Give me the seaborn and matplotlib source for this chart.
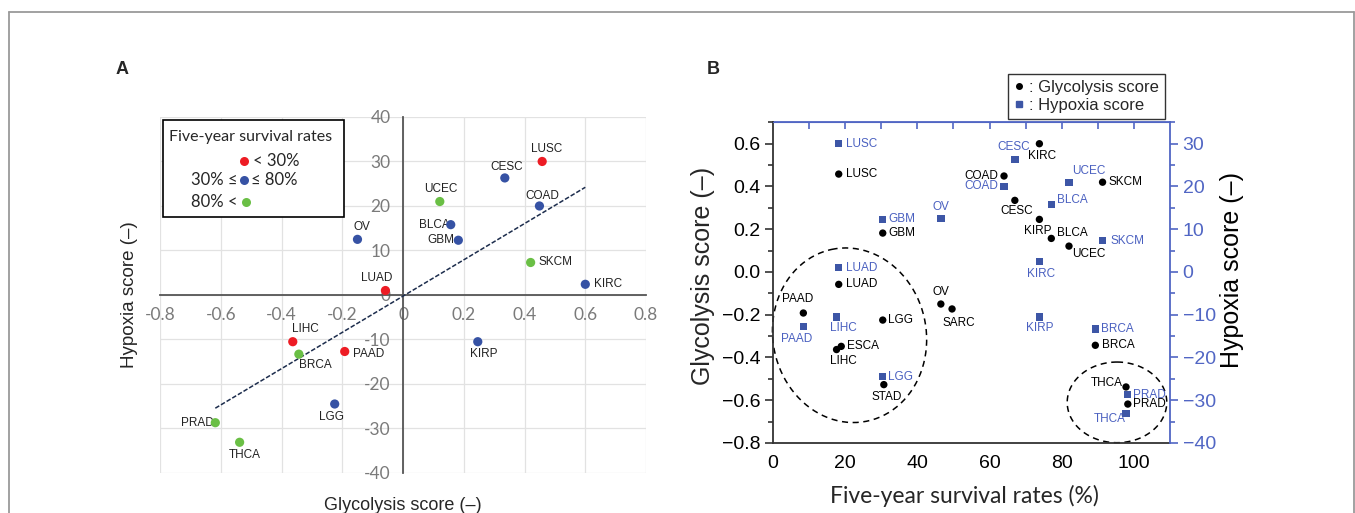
# %%
# Glycolysis / hypoxia scores vs five-year survival (two panels)
import numpy as np
import pandas as pd
import seaborn as sns
import matplotlib.pyplot as plt
from matplotlib.lines import Line2D
from matplotlib.patches import Rectangle
from matplotlib.ticker import MultipleLocator, FuncFormatter

sns.set_style("white")
plt.rcParams['font.family'] = ['Liberation Sans', 'DejaVu Sans']

# %%
# values
cancers = ['LUSC', 'CESC', 'UCEC', 'COAD', 'BLCA', 'GBM', 'SKCM', 'KIRC', 'KIRP', 'OV',
           'LUAD', 'LIHC', 'BRCA', 'PAAD', 'LGG', 'PRAD', 'THCA', 'ESCA', 'STAD', 'SARC']
glycolysis = [0.458, 0.335, 0.121, 0.449, 0.157, 0.182, 0.420, 0.600, 0.246, -0.150,
              -0.058, -0.363, -0.343, -0.192, -0.225, -0.618, -0.538, -0.348, -0.527, -0.173]
hypoxia = [30.0, 26.3, 21.0, 20.0, 15.8, 12.3, 7.3, 2.4, -10.5, 12.5,
           1.0, -10.5, -13.3, -12.7, -24.5, -28.7, -33.1, np.nan, np.nan, np.nan]
survival = [18.2, 67.0, 82.0, 64.0, 77.1, 30.4, 91.3, 73.8, 73.8, 46.5,
            18.2, 17.6, 89.3, 8.4, 30.4, 98.3, 97.8, 18.9, 30.7, 49.6]

df = pd.DataFrame({'cancer': cancers, 'glycolysis': glycolysis,
                   'hypoxia': hypoxia, 'survival': survival})
df['group'] = np.where(df['survival'] < 30, 'low',
                       np.where(df['survival'] <= 80, 'mid', 'high'))

red, blue_a, green = '#ed1c24', '#3652a4', '#6abf45'
blue = '#3d56a6'
blue_txt = '#4a60c0'
blue_ax = '#5166c4'
calibri = ['Lato', 'DejaVu Sans']

# label offsets (points) and alignment: name -> (dx, dy, ha)
labA = {'LUSC': (3, 9, 'center'), 'CESC': (1, 8, 'center'), 'UCEC': (1, 9, 'center'),
        'COAD': (2, 7, 'center'), 'BLCA': (-1, 0, 'right'), 'GBM': (-3, 0, 'right'),
        'SKCM': (6, 0, 'left'), 'KIRC': (6, 0, 'left'), 'KIRP': (4, -9, 'center'),
        'OV': (3, 9, 'center'), 'LUAD': (-6, 9, 'center'), 'LIHC': (9, 9, 'center'),
        'BRCA': (12, -8, 'center'), 'PAAD': (6, -1.5, 'left'), 'LGG': (-2, -9, 'center'),
        'PRAD': (-1, 0, 'right'), 'THCA': (4, -9, 'center')}
labB_gly = {'LUSC': (5, 0, 'left'), 'GBM': (4, 0, 'left'), 'LUAD': (5, 0, 'left'),
            'PAAD': (-4, 10, 'center'), 'LGG': (4, 0, 'left'), 'LIHC': (5, -8, 'center'),
            'ESCA': (4, 0, 'left'), 'STAD': (2, -9, 'center'), 'OV': (0, 9, 'center'),
            'SARC': (5, -10, 'center'), 'COAD': (-4, 0, 'right'), 'CESC': (1, -8, 'center'),
            'KIRC': (2, -9, 'center'), 'KIRP': (-1, -8, 'center'), 'BLCA': (4, 4, 'left'),
            'UCEC': (14, -6, 'center'), 'SKCM': (4, 0, 'left'), 'BRCA': (5, 0, 'left'),
            'THCA': (-2, 3, 'right'), 'PRAD': (4, 0, 'left')}
labB_hyp = {'LUSC': (5, 0, 'left'), 'GBM': (4, 0, 'left'), 'OV': (0, 8, 'center'),
            'LUAD': (5, 0, 'left'), 'LIHC': (5, -8, 'center'), 'PAAD': (-5, -9, 'center'),
            'LGG': (4, 0, 'left'), 'COAD': (-4, 0, 'right'), 'CESC': (-1, 9, 'center'),
            'UCEC': (14, 8, 'center'), 'BLCA': (4, 3, 'left'), 'SKCM': (6, 0, 'left'),
            'KIRC': (1, -9, 'center'), 'KIRP': (0, -8, 'center'), 'BRCA': (4, 0, 'left'),
            'PRAD': (4, 0, 'left'), 'THCA': (-12, -4, 'center')}

fig = plt.figure(figsize=(13.55, 5.13), dpi=100)

# outer frame (open at the bottom)
for xs, ys in [([0.0066, 0.0066], [0, 0.9766]), ([0.0066, 0.9993], [0.9766, 0.9766]),
               ([0.9993, 0.9993], [0.9766, 0])]:
    fig.add_artist(Line2D(xs, ys, color='#9a9a9a', lw=1.3, transform=fig.transFigure))

# %%
# Panel A
axA = fig.add_axes([0.1181, 0.078, 0.3587, 0.694])
dA = df.dropna(subset=['hypoxia'])
sns.scatterplot(data=dA, x='glycolysis', y='hypoxia', hue='group',
                palette={'low': red, 'mid': blue_a, 'high': green},
                s=44, edgecolor='none', legend=False, ax=axA, zorder=4)

slope, icpt = np.polyfit(dA['glycolysis'], dA['hypoxia'], 1)
xl = np.array([dA['glycolysis'].min(), dA['glycolysis'].max()])
axA.plot(xl, slope * xl + icpt, color='#1d2d4d', lw=1.1, ls=(0, (3, 1.3)), zorder=3)

for _, r in dA.iterrows():
    dx, dy, ha = labA[r['cancer']]
    axA.annotate(r['cancer'], (r['glycolysis'], r['hypoxia']), xytext=(dx, dy),
                 textcoords='offset points', ha=ha, va='center', fontsize=8.5, color='#222222')

axA.set_xlim(-0.8, 0.8)
axA.set_ylim(-40, 40)
axA.set_xticks(np.arange(-0.8, 0.81, 0.2))
axA.set_yticks(range(-40, 41, 10))
axA.xaxis.set_major_formatter(FuncFormatter(lambda v, p: f'{round(v, 1) + 0:g}'))
axA.yaxis.set_major_formatter(FuncFormatter(lambda v, p: f'{v:g}'))
axA.grid(True, color='#e2e2e2', lw=0.9)
axA.set_axisbelow(True)
for s in ['top', 'right']:
    axA.spines[s].set_visible(False)
for s in ['left', 'bottom']:
    axA.spines[s].set_position(('data', 0))
    axA.spines[s].set_color('#555555')
    axA.spines[s].set_linewidth(1.3)
axA.tick_params(length=0, labelsize=12.5, colors='#7a7a7a', pad=9)
for lab in axA.get_xticklabels() + axA.get_yticklabels():
    lab.set_family(calibri)
axA.set_xlabel('Glycolysis score (–)', fontsize=13)
axA.set_ylabel('Hypoxia score (–)', fontsize=13.5)
axA.xaxis.set_label_coords(0.5, -0.068)
axA.yaxis.set_label_coords(-0.045, 0.5)

# legend box of panel A
axA.add_patch(Rectangle((0.006, 0.72), 0.373, 0.272, transform=axA.transAxes,
                        fill=True, facecolor='white', edgecolor='black', lw=1.2, zorder=5))
axA.text(0.0185, 0.943, 'Five-year survival rates', transform=axA.transAxes,
         ha='left', va='center', fontsize=11.5, family=calibri, zorder=6)
axA.plot([0.1728], [0.876], 'o', color=red, ms=6.5, mec='none', transform=axA.transAxes,
         clip_on=False, zorder=6)
axA.text(0.192, 0.876, '< 30%', transform=axA.transAxes, ha='left', va='center',
         fontsize=12, family=calibri, zorder=6)
axA.plot([0.1735], [0.823], 'o', color=blue_a, ms=6.5, mec='none', transform=axA.transAxes,
         clip_on=False, zorder=6)
axA.text(0.159, 0.823, '30% ≤', transform=axA.transAxes, ha='right', va='center',
         fontsize=12, family=calibri, zorder=6)
axA.text(0.188, 0.823, '≤ 80%', transform=axA.transAxes, ha='left', va='center',
         fontsize=12, family=calibri, zorder=6)
axA.plot([0.1763], [0.761], 'o', color=green, ms=6.5, mec='none', transform=axA.transAxes,
         clip_on=False, zorder=6)
axA.text(0.159, 0.761, '80% <', transform=axA.transAxes, ha='right', va='center',
         fontsize=12, family=calibri, zorder=6)

fig.text(122 / 1355, 1 - 70 / 513, 'A', fontsize=13, fontweight='bold', ha='center', va='center')
fig.text(713 / 1355, 1 - 70 / 513, 'B', fontsize=13, fontweight='bold', ha='center', va='center')

# %%
# Panel B
axB = fig.add_axes([0.5705, 0.1365, 0.293, 0.625])
sns.scatterplot(data=df, x='survival', y='glycolysis', color='black', s=28,
                marker='o', edgecolor='none', ax=axB, zorder=4)
for _, r in df.iterrows():
    dx, dy, ha = labB_gly[r['cancer']]
    axB.annotate(r['cancer'], (r['survival'], r['glycolysis']), xytext=(dx, dy),
                 textcoords='offset points', ha=ha, va='center', fontsize=8.5, color='black')

ax2 = axB.twinx()
sns.scatterplot(data=dA, x='survival', y='hypoxia', color=blue, s=28,
                marker='s', edgecolor='none', ax=ax2, zorder=4)
for _, r in dA.iterrows():
    dx, dy, ha = labB_hyp[r['cancer']]
    ax2.annotate(r['cancer'], (r['survival'], r['hypoxia']), xytext=(dx, dy),
                 textcoords='offset points', ha=ha, va='center', fontsize=8.5, color=blue_txt)

# dashed rings around the low- and high-survival groups (sizes in pixels)
px_x, px_y = 3.625, 212.0
for cx, cy, a, b, th in [(21.2, -0.296, 87, 77, 12), (95.3, -0.61, 40, 50, 0)]:
    t = np.linspace(0, 2 * np.pi, 200)
    th = np.radians(th)
    ux, uy = -np.sin(th), np.cos(th)
    vx, vy = np.cos(th), np.sin(th)
    ex = a * np.cos(t) * ux + b * np.sin(t) * vx
    ey = a * np.cos(t) * uy + b * np.sin(t) * vy
    axB.plot(cx + ex / px_x, cy + ey / px_y, color='black', lw=1.1,
             ls=(0, (4, 3)), clip_on=False, zorder=2)

axB.set_xlim(0, 110)
axB.set_ylim(-0.8, 0.7)
ax2.set_ylim(-40, 35)
axB.set_xticks(range(0, 101, 20))
axB.xaxis.set_minor_locator(MultipleLocator(10))
axB.set_yticks(np.arange(-0.8, 0.61, 0.2))
axB.yaxis.set_minor_locator(MultipleLocator(0.1))
axB.yaxis.set_major_formatter(FuncFormatter(lambda v, p: f'{round(v, 1) + 0:.1f}'.replace('-', '\u2212')))
ax2.set_yticks(range(-40, 31, 10))
ax2.yaxis.set_minor_locator(MultipleLocator(5))

axB.tick_params(axis='both', which='major', direction='out', length=6, width=1.2,
                labelsize=14, color='#333333', labelcolor='black', pad=3)
axB.tick_params(axis='both', which='minor', direction='out', length=3.5, width=1.2, color='#333333')
axB.tick_params(axis='x', which='both', top=False)
ax2.tick_params(axis='y', which='major', direction='out', length=6, width=1.2,
                labelsize=14, colors=blue_ax, pad=3)
ax2.tick_params(axis='y', which='minor', direction='out', length=3.5, width=1.2, colors=blue_ax)
ax2.yaxis.set_major_formatter(FuncFormatter(lambda v, p: f'{v:g}'.replace('-', '\u2212')))

top = axB.secondary_xaxis('top')
top.set_xticks(range(10, 101, 10))
top.tick_params(direction='in', length=5, width=1.2, color=blue_ax, labeltop=False)
top.spines['top'].set_color(blue_ax)
top.spines['top'].set_linewidth(1.3)

for s in ['left', 'bottom']:
    axB.spines[s].set_color('#333333')
    axB.spines[s].set_linewidth(1.3)
axB.spines['top'].set_color(blue_ax)
axB.spines['right'].set_visible(False)
for s in ['left', 'bottom', 'top']:
    ax2.spines[s].set_visible(False)
ax2.spines['right'].set_color(blue_ax)
ax2.spines['right'].set_linewidth(1.3)

axB.set_xlabel('Five-year survival rates (%)', fontsize=16.5, family=calibri)
axB.set_ylabel('Glycolysis score (–)', fontsize=18)
ax2.set_ylabel('Hypoxia score (–)', fontsize=18, color='black')
axB.xaxis.set_label_coords(0.482, -0.13)
axB.yaxis.set_label_coords(-0.145, 0.52)
ax2.yaxis.set_label_coords(1.125, 0.54)

handles = [Line2D([], [], ls='none', marker='o', color='black', ms=4),
           Line2D([], [], ls='none', marker='s', color=blue, ms=4)]
axB.legend(handles, [': Glycolysis score', ': Hypoxia score'], loc='lower center',
           bbox_to_anchor=(0.79, 1.01), fontsize=12, frameon=True, fancybox=False,
           edgecolor='black', handlelength=0.6, handletextpad=0.3, borderpad=0.35,
           labelspacing=0.2, borderaxespad=0)
axB.get_legend().get_frame().set_linewidth(1.0)

fig.savefig('out.png', dpi=100)
